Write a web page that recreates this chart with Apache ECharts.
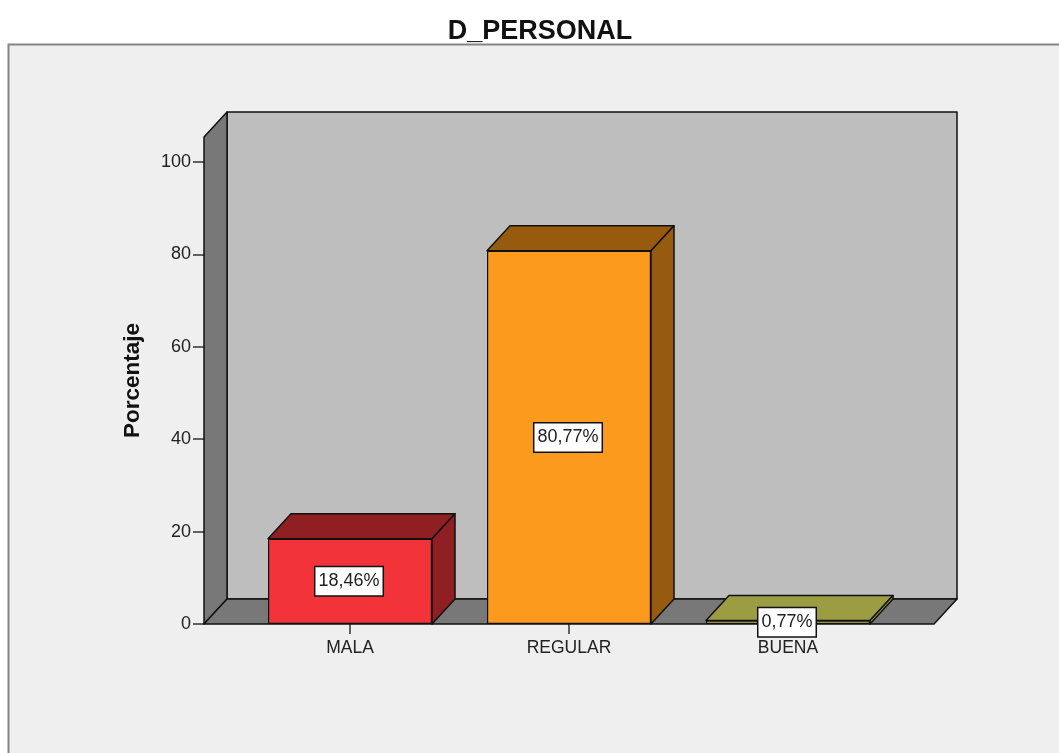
<!DOCTYPE html>
<html><head><meta charset="utf-8">
<style>html,body{margin:0;padding:0;background:#fff}#c{width:1059px;height:753px}</style>
<script src="https://cdn.jsdelivr.net/npm/echarts@6/dist/echarts.min.js"></script>
</head><body><div id="c"></div>
<script>
const categories = ['MALA', 'REGULAR', 'BUENA'];
const values = [18.46, 80.77, 0.77];
const yTicks = [0, 20, 40, 60, 80, 100];
const frontColors = ['#f2333a', '#fb9a1d', '#bcbc55'];
const shadeColors = ['#8f1f23', '#975b10', '#9c9c42'];

const FONT = '"Liberation Sans", Arial, sans-serif';
const DX = 23, DY = -25, EDGE = 36.5, YMAX = 105.41;
const LINE = '#111';
const poly = (points, fill, lw) => ({
  type: 'polygon',
  shape: { points },
  style: { fill, stroke: LINE, lineWidth: lw || 1.5, lineJoin: 'round' }
});

const chart = echarts.init(document.getElementById('c'), null, { renderer: 'canvas' });
chart.setOption({
  animation: false,
  backgroundColor: '#ffffff',
  graphic: [{
    type: 'rect', z: -1, silent: true,
    shape: { x: 8.5, y: 44.5, width: 1070, height: 730 },
    style: { fill: '#efefef', stroke: '#858585', lineWidth: 2 }
  }],
  title: {
    text: 'D_PERSONAL', left: 535, top: 13, textAlign: 'center',
    textStyle: { fontFamily: FONT, fontSize: 27, fontWeight: 'bold', color: '#111' }
  },
  grid: { left: 240.5, width: 657, top: 137, height: 487, containLabel: false },
  xAxis: {
    type: 'category', data: categories, boundaryGap: true,
    axisLine: { show: false },
    axisTick: { show: true, alignWithLabel: true, length: 10, lineStyle: { color: '#333', width: 1.5 } },
    axisLabel: { fontFamily: FONT, fontSize: 17.5, color: '#222', margin: 15 }
  },
  yAxis: {
    type: 'value', min: 0, max: YMAX, offset: 36.5,
    name: 'Porcentaje', nameLocation: 'middle', nameGap: 60, nameRotate: 90,
    nameTextStyle: { fontFamily: FONT, fontSize: 22.5, fontWeight: 'bold', color: '#111' },
    splitLine: { show: false },
    axisLine: { show: false },
    axisTick: { show: true, length: 11, customValues: yTicks, lineStyle: { color: '#333', width: 1.5 } },
    axisLabel: { fontFamily: FONT, fontSize: 18, color: '#222', margin: 13, padding: [3, 0, 0, 0], customValues: yTicks }
  },
  series: [
    {
      type: 'custom', z: 1, silent: true, clip: false,
      data: [[0, 0]],
      encode: { x: 0, y: 1 },
      renderItem(params, api) {
        const band = api.size([1, 0])[0];
        const x0 = api.coord([0, 0])[0] - band / 2 - EDGE;
        const x1 = api.coord([categories.length - 1, 0])[0] + band / 2 + EDGE;
        const y0 = api.coord([0, 0])[1];
        const yT = api.coord([0, YMAX])[1];
        return {
          type: 'group', children: [
            poly([[x0 + DX, yT + DY], [x1 + DX, yT + DY], [x1 + DX, y0 + DY], [x0 + DX, y0 + DY]], '#bebebe'),
            poly([[x0, yT], [x0 + DX, yT + DY], [x0 + DX, y0 + DY], [x0, y0]], '#787878'),
            poly([[x0, y0], [x0 + DX, y0 + DY], [x1 + DX, y0 + DY], [x1, y0]], '#787878')
          ]
        };
      }
    },
    {
      type: 'custom', z: 2, silent: true, clip: false,
      data: values.map((v, i) => [i, v]),
      encode: { x: 0, y: 1 },
      renderItem(params, api) {
        const i = api.value(0);
        const p = api.coord([i, api.value(1)]);
        const base = api.coord([i, 0])[1];
        const w = 164;
        const l = p[0] - w / 2, r = p[0] + w / 2, t = p[1];
        return {
          type: 'group', children: [
            poly([[l, t], [l + DX, t + DY], [r + DX, t + DY], [r, t]], shadeColors[i]),
            poly([[r, t], [r + DX, t + DY], [r + DX, base + DY], [r, base]], shadeColors[i])
          ]
        };
      }
    },
    {
      type: 'bar', z: 3, barWidth: 164, clip: false,
      data: values.map((v, i) => ({
        value: v,
        itemStyle: { color: frontColors[i], borderColor: LINE, borderWidth: 1.2 }
      })),
      label: {
        show: true, position: 'inside', distance: 0, offset: [-1, 0],
        formatter: p => p.value.toFixed(2).replace('.', ',') + '%',
        fontFamily: FONT, fontSize: 18, color: '#222',
        backgroundColor: '#fff', borderColor: '#111', borderWidth: 1.5,
        padding: [6, 3, 4, 3]
      }
    }
  ]
});
</script></body></html>
